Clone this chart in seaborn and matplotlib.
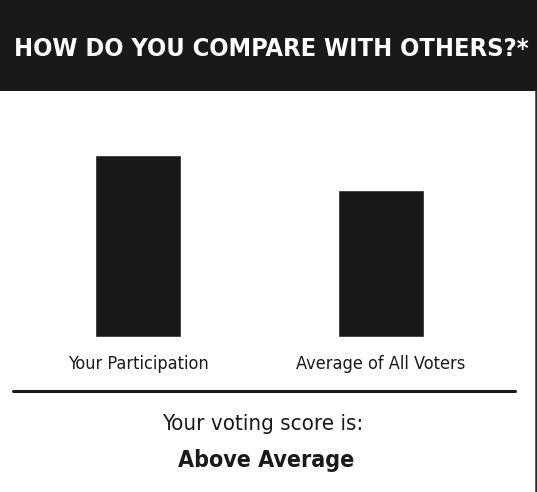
import matplotlib
matplotlib.use("Agg")
import matplotlib.pyplot as plt
import seaborn as sns
import pandas as pd
from matplotlib.patches import Rectangle
from matplotlib.lines import Line2D

# Chart data
categories = ["Your Participation", "Average of All Voters"]
scores = [100, 81]
title = "HOW DO YOU COMPARE WITH OTHERS?*"
score_intro = "Your voting score is:"
score_result = "Above Average"

sns.set_theme(style="white")
plt.rcParams["font.family"] = ["DejaVu Sans"]
plt.rcParams["font.stretch"] = "condensed"

W, H = 537, 492
fig = plt.figure(figsize=(W / 100, H / 100), dpi=100)
fig.patch.set_facecolor("white")

def fx(px):
    return px / W

def fy(py):
    return 1 - py / H

# Header band
fig.patches.append(Rectangle((0, fy(91)), 1, 91 / H, transform=fig.transFigure,
                             facecolor="#191919", edgecolor="none", zorder=0))
fig.text(fx(271), fy(49), title, color="white", fontsize=18.2, fontweight="bold",
         ha="center", va="center")

# right edge line
fig.lines.append(Line2D([fx(535.5), fx(535.5)], [fy(91), 0], transform=fig.transFigure,
                        color="#2a2a2a", lw=1.8))

# Bars
df = pd.DataFrame({"category": categories, "score": scores})
ax_left, ax_width = 16.5, 486
ax_bottom, ax_height = 336.7, 181.7 * 1.1
ax = fig.add_axes([fx(ax_left), fy(ax_bottom), ax_width / W, ax_height / H])
sns.barplot(data=df, x="category", y="score", color="#191919", width=0.354,
            saturation=1, ax=ax)
ax.set_xlim(-0.5, 1.5)
ax.set_ylim(0, 110)
ax.set_xlabel("")
ax.set_ylabel("")
ax.set_yticks([])
ax.tick_params(axis="x", length=0, pad=13, labelsize=13, labelcolor="#1a1a1a")
for s in ax.spines.values():
    s.set_visible(False)
ax.patch.set_alpha(0)

# divider line
fig.lines.append(Line2D([fx(12.5), fx(515)], [fy(391), fy(391)], transform=fig.transFigure,
                        color="#1a1a1a", lw=2.2))

fig.text(fx(263), fy(424), score_intro, color="#1a1a1a", fontsize=16,
         ha="center", va="center")
fig.text(fx(266.5), fy(460), score_result, color="#1a1a1a", fontsize=16.7,
         fontweight="bold", ha="center", va="center")

fig.savefig("out.png", dpi=100)
